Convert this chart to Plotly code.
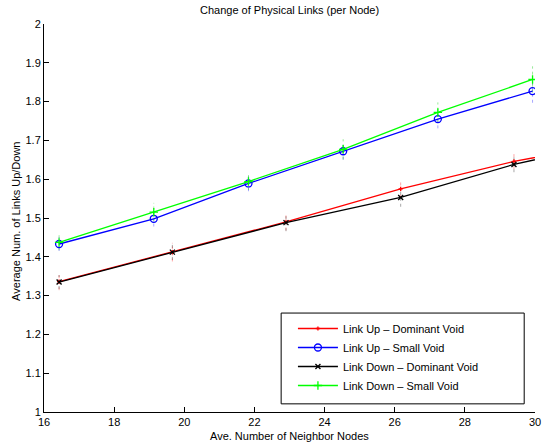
import plotly.graph_objects as go

# Average neighbor counts at which each scenario was simulated
x_small = [16.43, 19.13, 21.83, 24.53, 27.23, 29.93]
x_dominant = [16.43, 19.66, 22.90, 26.17, 29.40, 32.64]

# Mean number of links per node
up_dominant = [1.336, 1.412, 1.490, 1.575, 1.646, 1.700]
up_small = [1.433, 1.498, 1.589, 1.672, 1.755, 1.827]
down_dominant = [1.335, 1.412, 1.488, 1.553, 1.638, 1.703]
down_small = [1.437, 1.515, 1.594, 1.677, 1.772, 1.857]

# Half-width of the error bars
err_up_dominant = [0.022, 0.024, 0.022, 0.022, 0.020, 0.0]
err_up_small = [0.018, 0.020, 0.020, 0.022, 0.024, 0.030]
err_down_dominant = [0.018, 0.020, 0.022, 0.024, 0.020, 0.0]
err_down_small = [0.020, 0.024, 0.022, 0.026, 0.026, 0.034]

series = [
    ("Link Up \u2013 Dominant Void", x_dominant, up_dominant, err_up_dominant,
     "#ff0000", "rgba(255,0,0,0.35)", "cross-thin", 3),
    ("Link Up \u2013 Small Void", x_small, up_small, err_up_small,
     "#0000ff", "rgba(0,0,255,0.35)", "circle-open", 7),
    ("Link Down \u2013 Dominant Void", x_dominant, down_dominant, err_down_dominant,
     "#000000", "rgba(0,0,0,0.35)", "x-thin", 5),
    ("Link Down \u2013 Small Void", x_small, down_small, err_down_small,
     "#00ff00", "rgba(0,200,0,0.4)", "cross-thin", 6),
]

fig = go.Figure()

# dotted vertical error bars
for name, xs, ys, es, color, ecolor, sym, msize in series:
    ex, ey = [], []
    for xv, yv, ev in zip(xs, ys, es):
        ex += [xv, xv, None]
        ey += [yv - ev, yv + ev, None]
    fig.add_trace(go.Scatter(
        x=ex, y=ey, mode="lines", showlegend=False, hoverinfo="skip",
        line=dict(color=ecolor, width=1, dash="dot"),
    ))

for name, xs, ys, es, color, ecolor, sym, msize in series:
    fig.add_trace(go.Scatter(
        x=xs, y=ys, mode="lines+markers", name=name,
        line=dict(color=color, width=1.3),
        marker=dict(symbol=sym, size=msize, color=color,
                    line=dict(color=color, width=1.3)),
    ))

font_family = "Liberation Sans, Arial, sans-serif"

fig.update_layout(
    width=544, height=442,
    margin=dict(l=44, r=3, t=24, b=30),
    paper_bgcolor="white", plot_bgcolor="white",
    font=dict(family=font_family, size=11, color="black"),
    showlegend=True,
    legend=dict(
        x=0.507, y=0.2526, xanchor="left", yanchor="top",
        bgcolor="rgba(0,0,0,0)", borderwidth=0,
        font=dict(size=11), itemwidth=40, tracegroupgap=0,
    ),
    shapes=[dict(
        type="rect", xref="paper", yref="paper",
        x0=0.483, x1=0.978, y0=0.021, y1=0.255,
        line=dict(color="black", width=1), fillcolor="rgba(0,0,0,0)",
        layer="below",
    )],
    annotations=[
        dict(text="Change of Physical Links (per Node)", xref="paper", yref="paper",
             x=0.5, y=1, yshift=6, xanchor="center", yanchor="bottom",
             showarrow=False, font=dict(size=11)),
        dict(text="Ave. Number of Neighbor Nodes", xref="paper", yref="paper",
             x=0.5, y=0, yshift=-16, xanchor="center", yanchor="top",
             showarrow=False, font=dict(size=11)),
        dict(text="Average Num. of Links Up/Down", xref="paper", yref="paper",
             x=0, y=0.49, xshift=-28, xanchor="center", yanchor="middle",
             textangle=-90, showarrow=False, font=dict(size=11)),
    ],
)

fig.update_xaxes(
    range=[16, 30], tickvals=[16, 18, 20, 22, 24, 26, 28, 30],
    ticks="inside", ticklen=5, tickcolor="black", tickwidth=1,
    showline=True, linecolor="black", linewidth=1, mirror=False,
    showgrid=False, zeroline=False, tickfont=dict(size=11),
    ticklabeloverflow="allow",
)
fig.update_yaxes(
    range=[1, 2], tickvals=[1, 1.1, 1.2, 1.3, 1.4, 1.5, 1.6, 1.7, 1.8, 1.9, 2],
    ticktext=["1", "1.1", "1.2", "1.3", "1.4", "1.5", "1.6", "1.7", "1.8", "1.9", "2"],
    ticks="inside", ticklen=5, tickcolor="black", tickwidth=1,
    showline=True, linecolor="black", linewidth=1, mirror=False,
    showgrid=False, zeroline=False, tickfont=dict(size=11),
)

fig.write_html("out.html")
